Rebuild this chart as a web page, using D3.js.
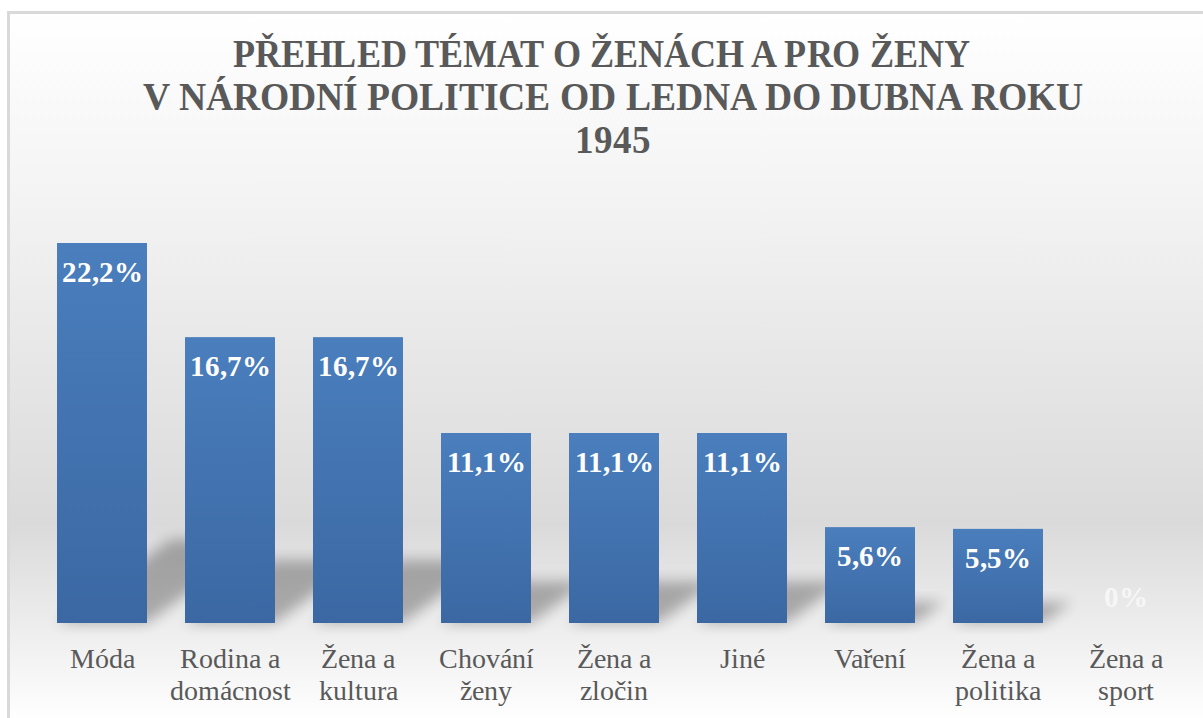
<!DOCTYPE html>
<html><head><meta charset="utf-8">
<script src="https://cdn.jsdelivr.net/npm/d3@7"></script>
<style>
@font-face { font-family: "ChartSerif"; font-weight: 400; src: local("Liberation Serif"), local("LiberationSerif"), local("Tinos"), local("Times New Roman"); }
@font-face { font-family: "ChartSerif"; font-weight: 700; src: local("Liberation Serif Bold"), local("LiberationSerif-Bold"), local("Tinos Bold"), local("Times New Roman Bold"); }
svg text { font-family: "ChartSerif", "Liberation Serif", Tinos, serif; }
</style>
</head><body style="margin:0">
<svg id="chart" width="1203" height="718" font-family="Liberation Serif"></svg>
<script>
const categories = [["Móda"],["Rodina a","domácnost"],["Žena a","kultura"],["Chování","ženy"],["Žena a","zločin"],["Jiné"],["Vaření"],["Žena a","politika"],["Žena a","sport"]];
const values = [22.2,16.7,16.7,11.1,11.1,11.1,5.6,5.5,0];
const valueLabels = ["22,2%","16,7%","16,7%","11,1%","11,1%","11,1%","5,6%","5,5%","0%"];
const titleLines = ["PŘEHLED TÉMAT O ŽENÁCH A PRO ŽENY","V NÁRODNÍ POLITICE  OD LEDNA DO DUBNA ROKU","1945"];

const svg = d3.select("#chart");
const defs = svg.append("defs");
const bg = defs.append("linearGradient").attr("id","bg").attr("x1",0).attr("y1",0).attr("x2",0).attr("y2",1);
bg.append("stop").attr("offset","0%").attr("stop-color","#ffffff");
bg.append("stop").attr("offset","25%").attr("stop-color","#f4f4f4");
bg.append("stop").attr("offset","72%").attr("stop-color","#dadada");
bg.append("stop").attr("offset","100%").attr("stop-color","#ffffff");
const bar = defs.append("linearGradient").attr("id","bar").attr("x1",0).attr("y1",0).attr("x2",0).attr("y2",1);
bar.append("stop").attr("offset","0%").attr("stop-color","#4a7ebd");
bar.append("stop").attr("offset","100%").attr("stop-color","#3b68a3");
defs.append("filter").attr("id","blur").attr("x","-50%").attr("y","-50%").attr("width","200%").attr("height","200%")
  .append("feGaussianBlur").attr("stdDeviation",7);

svg.append("rect").attr("x",8.5).attr("y",12.5).attr("width",1200).attr("height",710)
  .attr("fill","url(#bg)").attr("stroke","#d9d9d9").attr("stroke-width",3);

const x = d3.scaleBand().domain(d3.range(categories.length)).range([38,1190]).paddingInner(0.297).paddingOuter(0.1485);
const y = d3.scaleLinear().domain([0,22.2]).range([623,243]);

svg.append("g").selectAll("path").data(values).join("path")
  .attr("d",(d,i)=>{
    const x0=x(i), x1=x(i)+x.bandwidth(), h=y(0)-y(d);
    const dy=h*0.22, dx=h*0.3;
    return `M${x0},${y(0)} L${x1},${y(0)} L${x1+dx},${y(0)-dy} L${x0+dx},${y(0)-dy} Z`;
  })
  .attr("fill","#000").attr("opacity",0.28).attr("filter","url(#blur)");

svg.append("g").selectAll("rect").data(values).join("rect")
  .attr("x",(d,i)=>x(i)).attr("width",x.bandwidth())
  .attr("y",d=>y(d)).attr("height",d=>y(0)-y(d))
  .attr("fill","url(#bar)");

valueLabels.forEach((lab,i)=>{
  const d = values[i];
  svg.append("text").attr("font-size",29).attr("font-weight","bold")
    .attr("x",x(i)+x.bandwidth()/2).attr("y",d>0 ? y(d)+39 : y(0)-16)
    .attr("text-anchor","middle").attr("fill",d>0?"#ffffff":"#f6f6f6").text(lab);
});

categories.forEach((lines,i)=>{
  lines.forEach((l,j)=>{
    svg.append("text").attr("font-size",28)
      .attr("x",x(i)+x.bandwidth()/2).attr("y",668+j*32)
      .attr("text-anchor","middle").attr("fill","#595959").text(l);
  });
});

const titleX = [601,613,613];
const titleW = [737,940,76];
titleLines.forEach((l,j)=>{
  svg.append("text").attr("font-size",39).attr("font-weight","bold")
    .attr("x",titleX[j]).attr("y",67+j*43).attr("text-anchor","middle")
    .attr("fill","#595959")
    .attr("textLength",titleW[j]).attr("lengthAdjust","spacingAndGlyphs")
    .text(l);
});
</script>
</body></html>
